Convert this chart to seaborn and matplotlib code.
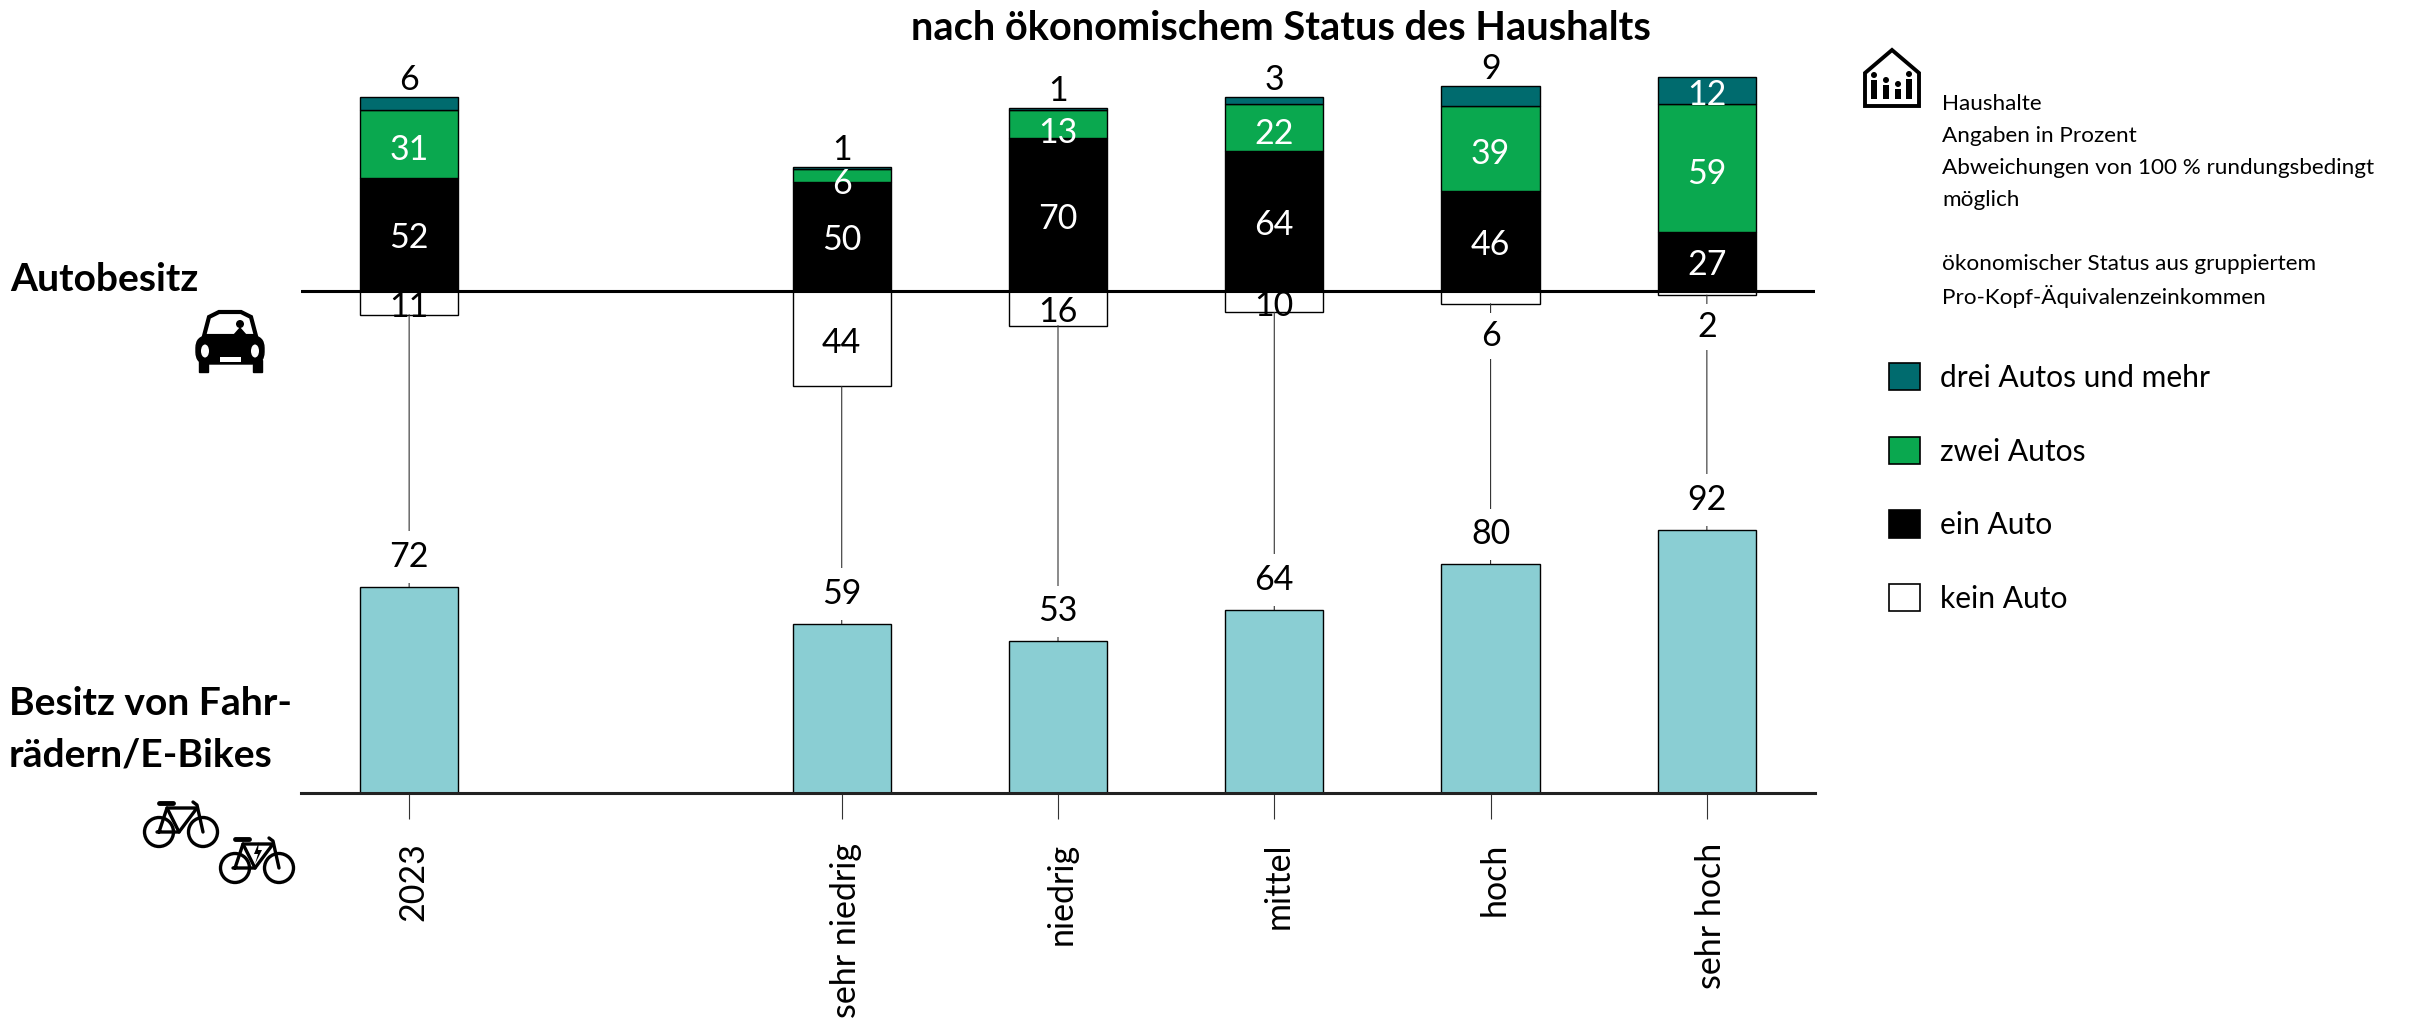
import matplotlib
matplotlib.use("Agg")
import matplotlib.pyplot as plt
import seaborn as sns
import pandas as pd
from matplotlib.patches import Patch, Polygon, Circle, Rectangle, Ellipse, ConnectionPatch, FancyBboxPatch
from matplotlib.transforms import ScaledTranslation

# Daten
cats = ["2023", " ", "sehr niedrig", "niedrig", "mittel", "hoch", "sehr hoch"]
groups = ["2023", "sehr niedrig", "niedrig", "mittel", "hoch", "sehr hoch"]
kein = [11, 44, 16, 10, 6, 2]
ein = [52, 50, 70, 64, 46, 27]
zwei = [31, 6, 13, 22, 39, 59]
drei = [6, 1, 1, 3, 9, 12]
rad = [72, 59, 53, 64, 80, 92]

legend_labels = ["drei Autos und mehr", "zwei Autos", "ein Auto", "kein Auto"]
notes = ["Haushalte", "Angaben in Prozent", "Abweichungen von 100 % rundungsbedingt", "möglich", "",
         "ökonomischer Status aus gruppiertem", "Pro-Kopf-Äquivalenzeinkommen"]

TEAL = "#006b6e"
GREEN = "#0aa84f"
LIGHT = "#8aced3"

W, H = 2417, 1021
PX = 0.72  # Punkt pro Pixel bei dpi=100

sns.set_theme(style="white")
plt.rcParams["font.family"] = ["Lato", "DejaVu Sans"]

fig = plt.figure(figsize=(W / 100, H / 100), dpi=100, facecolor="white")


def px_axes(x0, x1, y_top, y_bottom):
    return fig.add_axes([x0 / W, 1 - y_bottom / H, (x1 - x0) / W, (y_bottom - y_top) / H], facecolor="none")


ax_top = px_axes(301, 1815, 40, 420)
ax_bot = px_axes(301, 1815, 500, 792.5)
ov = fig.add_axes([0, 0, 1, 1], facecolor="none")
ov.set_xlim(0, W)
ov.set_ylim(H, 0)
ov.axis("off")

df = pd.DataFrame({"gruppe": groups, "kein": kein, "ein": ein, "zwei": zwei, "drei": drei, "rad": rad})
bar_w = 0.455
lw_bar = 1.0


def stacked(col, bottom, color, edge="black"):
    sns.barplot(data=df, x="gruppe", y=col, order=cats, bottom=bottom, color=color, saturation=1,
                width=bar_w, edgecolor=edge, linewidth=lw_bar, errorbar=None, ax=ax_top)


bottom_zwei = df["ein"].values
bottom_drei = df["ein"].values + df["zwei"].values
stacked("ein", 0, "black")
stacked("zwei", bottom_zwei, GREEN)
stacked("drei", bottom_drei, TEAL)
sns.barplot(data=df, x="gruppe", y=-df["kein"], order=cats, color="white", saturation=1, width=bar_w,
            edgecolor="black", linewidth=lw_bar, errorbar=None, ax=ax_top)
sns.barplot(data=df, x="gruppe", y="rad", order=cats, color=LIGHT, saturation=1, width=bar_w,
            edgecolor="black", linewidth=lw_bar, errorbar=None, ax=ax_bot)

ax_top.set_xlim(-0.5, 6.5)
ax_bot.set_xlim(-0.5, 6.5)
ax_top.set_ylim(-(420 - 290.7) / 2.176, (290.7 - 40) / 2.176)
ax_bot.set_ylim(0, 292.5 / 2.85)

ax_top.axhline(0, color="black", lw=2.2 * PX * 1.4, zorder=5)
ax_top.set_xlabel("")
ax_top.set_ylabel("")
ax_bot.set_xlabel("")
ax_bot.set_ylabel("")
ax_top.set_xticks([])
ax_top.set_yticks([])
ax_bot.set_yticks([])
sns.despine(ax=ax_top, left=True, bottom=True)
sns.despine(ax=ax_bot, left=True)
ax_bot.spines["bottom"].set_linewidth(2.2)
ax_bot.spines["bottom"].set_color("#222222")

positions = [cats.index(g) for g in groups]
ax_bot.set_xticks(positions)
ax_bot.set_xticklabels(groups, rotation=90, fontsize=34 * PX, color="black")
ax_bot.tick_params(axis="x", bottom=True, length=26 * PX, width=0.8, color="#333333", pad=24 * PX)
shift = ScaledTranslation(4 / 100, 0, fig.dpi_scale_trans)
for t in ax_bot.get_xticklabels():
    t.set_va("top")
    t.set_transform(t.get_transform() + shift)

val_size = 34 * PX
white_box = dict(facecolor="white", edgecolor="none", pad=5)


def label(ax, x, y, text, dy=0, color="black", box=None):
    ax.annotate(str(text), xy=(x, y), xytext=(0, (dy - 3) * PX), textcoords="offset points", ha="center",
                va="center", fontsize=val_size, color=color, bbox=box, zorder=10)


for i, x in enumerate(positions):
    label(ax_top, x, ein[i] / 2, ein[i], dy=-1, color="white")
    # schmale Segmente: Zahl rutscht leicht nach unten
    dy_zwei = -6 if zwei[i] < 15 else -3
    label(ax_top, x, ein[i] + zwei[i] / 2, zwei[i], dy=dy_zwei, color="white")
    top = ein[i] + zwei[i] + drei[i]
    if drei[i] >= 12:
        label(ax_top, x, top - drei[i] / 2, drei[i], dy=-1, color="white")
    else:
        label(ax_top, x, top, drei[i], dy=20)
    if kein[i] >= 10:
        label(ax_top, x, -kein[i] / 2, kein[i], dy=-1)
    else:
        label(ax_top, x, -kein[i], kein[i], dy=-29, box=white_box)
    label(ax_bot, x, rad[i], rad[i], dy=33, box=dict(facecolor="white", edgecolor="none", pad=7))
    # Verbindungslinie zwischen beiden Diagrammen
    con = ConnectionPatch(xyA=(x, -kein[i]), coordsA=ax_top.transData, xyB=(x, rad[i]), coordsB=ax_bot.transData,
                          color="#333333", lw=0.8, zorder=1, clip_on=False)
    ax_top.add_artist(con)

# Titel und Beschriftungen
ov.text(1281, 29, "nach ökonomischem Status des Haushalts", ha="center", va="center",
        fontsize=39.7 * PX, fontweight="bold", color="black")
ov.text(10, 279, "Autobesitz", ha="left", va="center", fontsize=39 * PX, fontweight="bold", color="black")
ov.text(9, 703, "Besitz von Fahr-", ha="left", va="center", fontsize=39 * PX, fontweight="bold", color="black")
ov.text(9, 755, "rädern/E-Bikes", ha="left", va="center", fontsize=39 * PX, fontweight="bold", color="black")

for k, line in enumerate(notes):
    ov.text(1942, 104 + 32 * k, line, ha="left", va="center", fontsize=22.5 * PX, color="black")

handles = [Patch(facecolor=c, edgecolor="black", linewidth=1.2) for c in [TEAL, GREEN, "black", "white"]]
fig.legend(handles, legend_labels, loc="upper left", bbox_to_anchor=(1889 / W, 1 - 363 / H), frameon=False,
           borderpad=0, borderaxespad=0, fontsize=30 * PX, handlelength=1.03, handleheight=1.03,
           handletextpad=0.68, labelspacing=1.49, labelcolor="black")


# Piktogramme
def car(x, y):
    k = "black"
    ov.add_patch(Polygon([(x + 9, y + 24), (x + 14, y + 5), (x + 24, y), (x + 46, y), (x + 56, y + 5), (x + 61, y + 24)],
                         closed=True, fc="none", ec=k, lw=3))
    ov.add_patch(FancyBboxPatch((x + 1, y + 24), 68, 28, boxstyle="round,pad=0,rounding_size=12", fc=k, ec=k, lw=1))
    ov.add_patch(Rectangle((x + 4, y + 48), 9, 12, fc=k, ec=k))
    ov.add_patch(Rectangle((x + 58, y + 48), 9, 12, fc=k, ec=k))
    ov.add_patch(Ellipse((x + 10, y + 39), 8, 13, fc="white", ec="none"))
    ov.add_patch(Ellipse((x + 60, y + 39), 8, 13, fc="white", ec="none"))
    ov.add_patch(Rectangle((x + 25, y + 45), 21, 5, fc="white", ec="none"))
    ov.add_patch(Circle((x + 45, y + 12), 4, fc=k, ec="none"))
    ov.add_patch(Polygon([(x + 38, y + 23), (x + 45, y + 15), (x + 52, y + 23)], fc=k, ec="none"))


def bike(x, y, electric=False):
    k = "black"
    ov.add_patch(Ellipse((x + 16, y + 32), 29, 29, fc="none", ec=k, lw=2.4))
    ov.add_patch(Ellipse((x + 60, y + 32), 29, 29, fc="none", ec=k, lw=2.4))
    ov.plot([x + 16, x + 24, x + 54, x + 36, x + 14], [y + 32, y + 8, y + 8, y + 32, y + 32], color=k, lw=2.4)
    ov.plot([x + 24, x + 36], [y + 8, y + 32], color=k, lw=2.4)
    ov.plot([x + 60, x + 54, x + 50], [y + 32, y + 5, y + 2], color=k, lw=2.4)
    ov.plot([x + 16, x + 30], [y + 3, y + 3], color=k, lw=3.5)
    if electric:
        ov.add_patch(Polygon([(x + 40, y + 6), (x + 35, y + 18), (x + 39, y + 18), (x + 36, y + 28),
                              (x + 43, y + 14), (x + 39, y + 14)], fc=k, ec="none"))


def house(x, y):
    k = "black"
    ov.add_patch(Polygon([(x + 1, y + 57), (x + 1, y + 24), (x + 28, y + 1), (x + 55, y + 24), (x + 55, y + 57)],
                         closed=True, fc="white", ec=k, lw=2.8))
    for dx, h in [(10, 19), (22, 14), (34, 10), (45, 20)]:
        ov.add_patch(Circle((x + dx, y + 50 - h - 5), 3, fc=k, ec="none"))
        ov.add_patch(Rectangle((x + dx - 3, y + 50 - h), 6, h, fc=k, ec="none"))


car(195, 312)
bike(143, 800)
bike(219, 836, electric=True)
house(1864, 49)

fig.savefig("out.png", dpi=100, facecolor="white")
